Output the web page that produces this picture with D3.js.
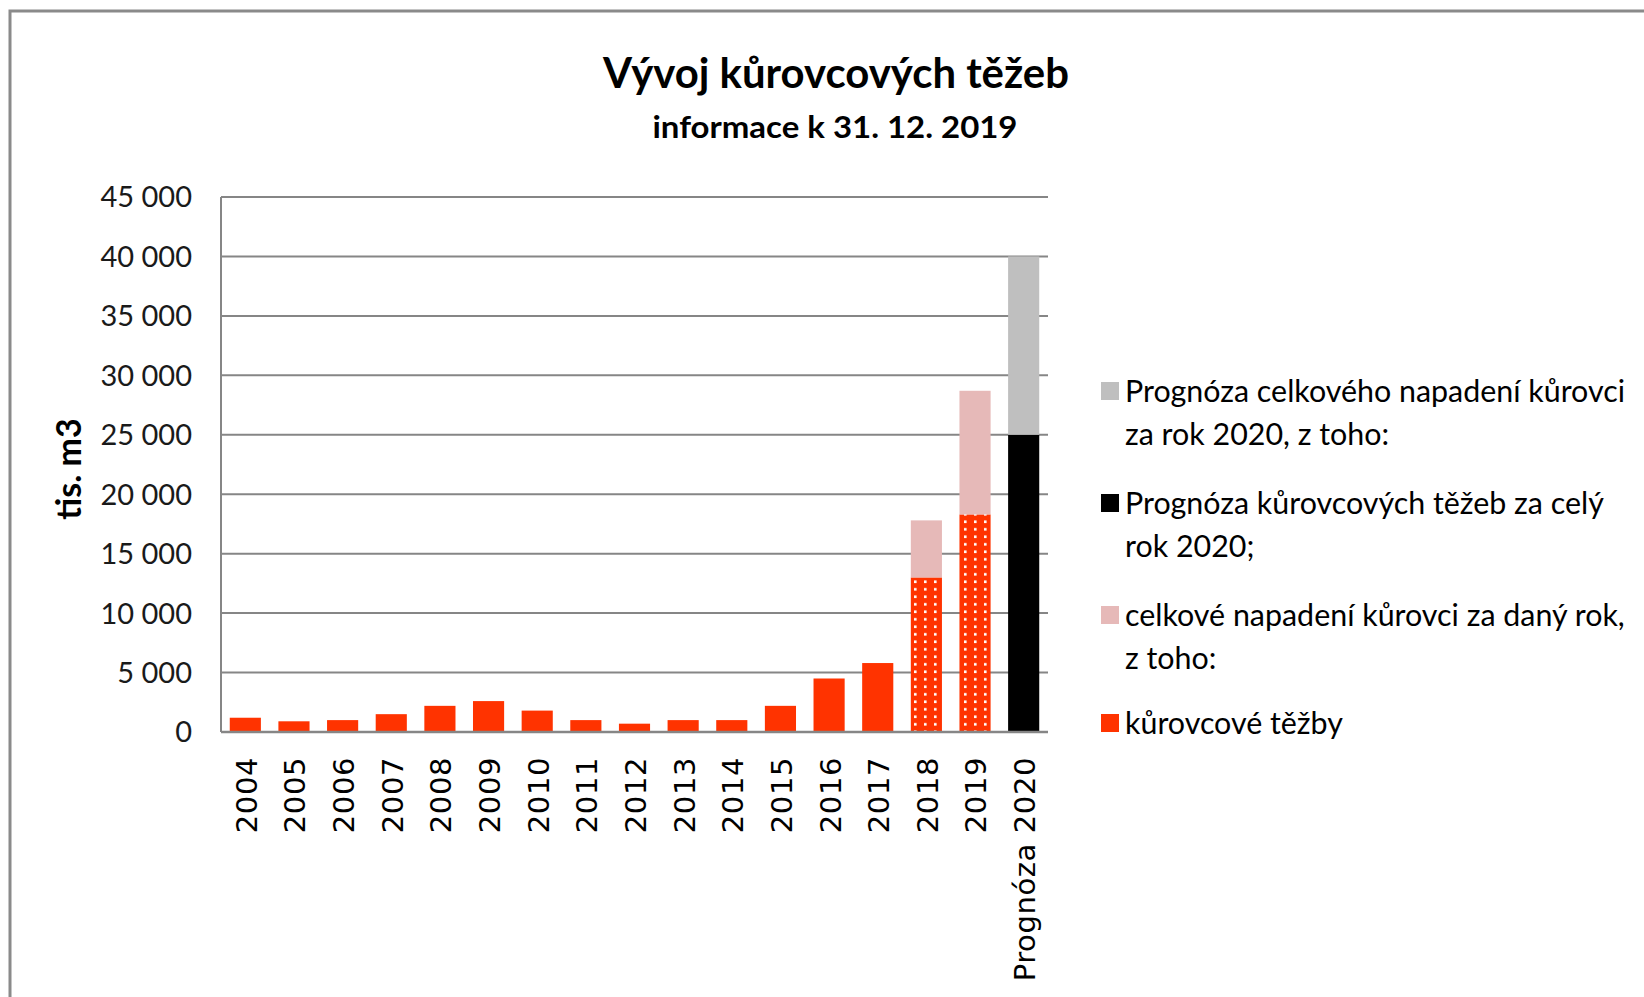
<!DOCTYPE html>
<html><head><meta charset="utf-8">
<script src="https://cdn.jsdelivr.net/npm/d3@7"></script>
<style>html,body{margin:0;padding:0;background:#fff;overflow:hidden}</style>
</head><body>
<svg id="chart" width="1644" height="997"></svg>
<script>
// ---- data ----
const categories = ["2004","2005","2006","2007","2008","2009","2010","2011","2012","2013","2014","2015","2016","2017","2018","2019","Prognóza 2020"];
const kurovcoveTezby   = [1200, 900, 1000, 1500, 2200, 2600, 1800, 1000, 700, 1000, 1000, 2200, 4500, 5800, 13000, 18300, 0];
const celkoveNapadeni  = [0, 0, 0, 0, 0, 0, 0, 0, 0, 0, 0, 0, 0, 0, 4800, 10400, 0];
const prognozaTezeb    = [0, 0, 0, 0, 0, 0, 0, 0, 0, 0, 0, 0, 0, 0, 0, 0, 25000];
const prognozaNapadeni = [0, 0, 0, 0, 0, 0, 0, 0, 0, 0, 0, 0, 0, 0, 0, 0, 15000];
const patternedYears   = ["2018","2019"];
const yTicks = [0,5000,10000,15000,20000,25000,30000,35000,40000,45000];
const legendItems = [
  {key:"prognozaNapadeni", lines:["Prognóza celkového napadení kůrovci","za rok 2020, z toho:"]},
  {key:"prognozaTezeb",    lines:["Prognóza kůrovcových těžeb za celý","rok 2020;"]},
  {key:"celkoveNapadeni",  lines:["celkové napadení kůrovci za daný rok,","z toho:"]},
  {key:"kurovcoveTezby",   lines:["kůrovcové těžby"]}
];
const title = "Vývoj kůrovcových těžeb";
const subtitle = "informace k 31. 12. 2019";
const yTitle = "tis. m3";

// ---- styles ----
const colors = {kurovcoveTezby:"#ff3300", celkoveNapadeni:"#e6b9b8", prognozaTezeb:"#000000", prognozaNapadeni:"#bfbfbf"};
const seriesKeys = ["kurovcoveTezby","celkoveNapadeni","prognozaTezeb","prognozaNapadeni"];
const seriesData = {kurovcoveTezby, celkoveNapadeni, prognozaTezeb, prognozaNapadeni};

const svg = d3.select("#chart");
const margin = {left:221, right:1048, top:197, bottom:732};

// frame
svg.append("rect").attr("x",10).attr("y",11).attr("width",1700).attr("height",1100)
  .attr("fill","none").attr("stroke","#8a8a8a").attr("stroke-width",3);

// pattern
const defs = svg.append("defs");
const pat = defs.append("pattern").attr("id","dots").attr("patternUnits","userSpaceOnUse")
  .attr("width",10).attr("height",7.5);
pat.append("rect").attr("width",10).attr("height",7.5).attr("fill",colors.kurovcoveTezby);
pat.append("rect").attr("x",4).attr("y",3).attr("width",2.6).attr("height",2.6).attr("fill","#fff");

const x = d3.scaleBand().domain(categories).range([margin.left, margin.right]).paddingInner(0.36).paddingOuter(0.18);
const y = d3.scaleLinear().domain([0,45000]).range([margin.bottom, margin.top]);

// gridlines
svg.append("g").selectAll("line").data(yTicks.filter(d=>d>0)).join("line")
  .attr("x1",margin.left).attr("x2",margin.right).attr("y1",d=>y(d)).attr("y2",d=>y(d))
  .attr("stroke","#868686").attr("stroke-width",2);

// stacked bars
const rows = categories.map((c,i)=>{const r={cat:c}; seriesKeys.forEach(k=>r[k]=seriesData[k][i]); return r;});
const stack = d3.stack().keys(seriesKeys)(rows);
svg.append("g").selectAll("g").data(stack).join("g")
  .selectAll("rect").data(s=>s.map(d=>({key:s.key,d}))).join("rect")
  .filter(o=>o.d[1]-o.d[0]>0)
  .attr("x",o=>x(o.d.data.cat)).attr("width",x.bandwidth())
  .attr("y",o=>y(o.d[1])).attr("height",o=>y(o.d[0])-y(o.d[1]))
  .attr("fill",o=>(o.key==="kurovcoveTezby" && patternedYears.includes(o.d.data.cat)) ? "url(#dots)" : colors[o.key]);

// axes lines
svg.append("line").attr("x1",margin.left).attr("x2",margin.left).attr("y1",margin.top).attr("y2",margin.bottom)
  .attr("stroke","#868686").attr("stroke-width",2);
svg.append("line").attr("x1",margin.left).attr("x2",margin.right).attr("y1",margin.bottom).attr("y2",margin.bottom)
  .attr("stroke","#868686").attr("stroke-width",2.5);

// y tick labels
const fmt = v => d3.format(",")(v).replace(/,/g," ");
svg.append("g").selectAll("text").data(yTicks).join("text")
  .attr("x",192).attr("y",d=>y(d)).attr("dy","0.36em").attr("text-anchor","end")
  .attr("font-family","Lato").attr("font-size",29).attr("fill","#1a1a1a").text(fmt);

// y title
svg.append("text").attr("transform","translate(81,469) rotate(-90)").attr("text-anchor","middle")
  .attr("font-family","Lato").attr("font-weight","bold").attr("font-size",34).attr("fill","#000").text(yTitle);

// x labels
svg.append("g").selectAll("text").data(categories).join("text")
  .attr("transform",d=>`translate(${x(d)+x.bandwidth()/2+1},757) rotate(-90)`)
  .attr("text-anchor","end").attr("dy","0.36em")
  .attr("font-family","DejaVu Sans").attr("font-size",29).attr("letter-spacing",0.6).attr("fill","#000").text(d=>d);

// titles
svg.append("text").attr("x",836).attr("y",88).attr("text-anchor","middle")
  .attr("font-family","Lato").attr("font-weight","bold").attr("font-size",42)
  .attr("textLength",466).attr("lengthAdjust","spacingAndGlyphs").text(title);
svg.append("text").attr("x",835).attr("y",138).attr("text-anchor","middle")
  .attr("font-family","Lato").attr("font-weight","bold").attr("font-size",30)
  .attr("textLength",365).attr("lengthAdjust","spacingAndGlyphs").text(subtitle);

// legend
const legendTop = [391, 503, 615, 723];
const lg = svg.append("g");
legendItems.forEach((it,i)=>{
  const cy = legendTop[i];
  lg.append("rect").attr("x",1101).attr("y",cy-9).attr("width",18).attr("height",18).attr("fill",colors[it.key]);
  it.lines.forEach((ln,j)=>{
    lg.append("text").attr("x",1125).attr("y",cy + j*43).attr("dy","0.36em")
      .attr("font-family","Lato").attr("font-size",30.4).attr("fill","#000").text(ln);
  });
});
</script>
</body></html>
